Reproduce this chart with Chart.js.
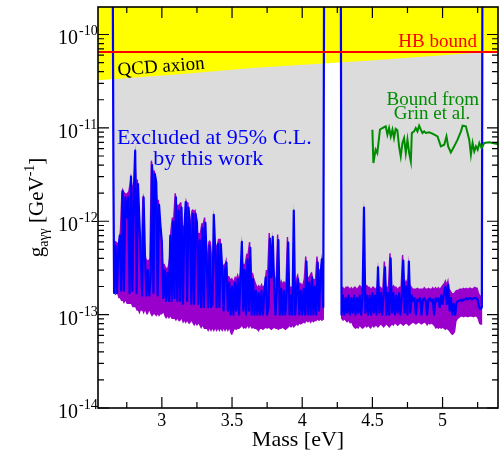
<!DOCTYPE html>
<html>
<head>
<meta charset="utf-8">
<script src="https://cdn.jsdelivr.net/npm/chart.js@4.4.1/dist/chart.umd.min.js"></script>
<style>
  html, body { margin: 0; padding: 0; background: #fff; }
</style>
</head>
<body>
<canvas id="limitChart" width="503" height="456"></canvas>
<script>
// all coupling values below are in units of 1e-13 GeV^-1
const G_UNIT = 1e-13;

// first mass window (blue limit, purple band top / bottom)
const seg1Mass = [2.650, 2.655,
  2.66, 2.67, 2.68, 2.69, 2.70, 2.71, 2.72, 2.73, 2.74, 2.75,
  2.76, 2.77, 2.78, 2.79, 2.80, 2.81, 2.82, 2.83, 2.84, 2.85,
  2.86, 2.87, 2.88, 2.89, 2.90, 2.91, 2.92, 2.93, 2.94, 2.95,
  2.96, 2.97, 2.98, 2.99, 3.00, 3.01, 3.02, 3.03, 3.04, 3.05,
  3.06, 3.07, 3.08, 3.09, 3.10, 3.11, 3.12, 3.13, 3.14, 3.15,
  3.16, 3.17, 3.18, 3.19, 3.20, 3.21, 3.22, 3.23, 3.24, 3.25,
  3.26, 3.27, 3.28, 3.29, 3.30, 3.31, 3.32, 3.33, 3.34, 3.35,
  3.36, 3.37, 3.38, 3.39, 3.40, 3.41, 3.42, 3.43, 3.44, 3.45,
  3.46, 3.47, 3.48, 3.49, 3.50, 3.51, 3.52, 3.53, 3.54, 3.55,
  3.56, 3.57, 3.58, 3.59, 3.60, 3.61, 3.62, 3.63, 3.64, 3.65,
  3.66, 3.67, 3.68, 3.69, 3.70, 3.71, 3.72, 3.73, 3.74, 3.75,
  3.76, 3.77, 3.78, 3.79, 3.80, 3.81, 3.82, 3.83, 3.84, 3.85,
  3.86, 3.87, 3.88, 3.89, 3.90, 3.91, 3.92, 3.93, 3.94, 3.95,
  3.96, 3.97, 3.98, 3.99, 4.00, 4.01, 4.02, 4.03, 4.04, 4.05,
  4.06, 4.07, 4.08, 4.09, 4.10, 4.11, 4.12, 4.13, 4.14, 4.15,
  4.156];
const seg1Limit = [5000, 30,
  1.7, 5.5, 1.7, 5.0, 7.0, 1.8, 21, 1.8, 18, 11,
  18, 1.7, 30, 1.8, 20, 57, 1.7, 25, 10, 4.0,
  1.6, 18, 4.0, 1.6, 3.0, 1.6, 2.5, 40, 1.7, 32,
  26, 1.6, 15, 9.0, 6.0, 1.5, 3.0, 1.4, 2.8, 1.4,
  7.0, 1.4, 10, 1.5, 18, 1.4, 13, 1.4, 14, 1.3,
  8.0, 16, 1.4, 14, 8.7, 1.3, 12, 1.3, 12, 9.6,
  1.3, 6.3, 1.2, 8.5, 1.2, 9.6, 3.6, 1.2, 5.5, 1.2,
  1.3, 11.7, 5.0, 1.2, 5.7, 1.2, 5.7, 3.0, 1.1, 3.0,
  3.6, 1.1, 2.2, 1.0, 2.0, 1.0, 2.2, 1.1, 2.4, 1.0,
  2.5, 6.0, 1.1, 3.0, 1.0, 3.9, 1.1, 5.2, 1.0, 2.4,
  1.0, 1.8, 1.0, 1.7, 1.0, 1.8, 1.0, 1.7, 2.5, 1.0,
  1.2, 6.5, 2.5, 6.8, 2.0, 1.0, 2.0, 6.3, 1.0, 1.9,
  1.0, 1.8, 1.0, 1.8, 5.9, 1.0, 1.6, 1.0, 13, 1.0,
  1.8, 2.4, 1.0, 1.8, 1.0, 1.9, 1.0, 3.7, 1.0, 2.2,
  1.0, 2.5, 1.0, 2.0, 1.0, 3.6, 1.1, 2.6, 3.9, 1.2,
  5000];
const seg1BandTop = [6.0, 34,
  6.0, 6.2, 6.0, 5.8, 8.0, 20, 23, 21, 20, 20,
  21, 26, 33, 25, 23, 66, 28, 28, 12, 5.0,
  18, 20, 5.0, 4.0, 3.8, 4.0, 44, 45, 35, 35,
  29, 17, 17, 10, 7.0, 3.5, 3.5, 3.2, 3.2, 4.0,
  8.0, 11, 11, 20, 20, 15, 15, 16, 16, 9.0,
  9.0, 18, 16, 16, 10, 13, 13.5, 13, 13.5, 11,
  7.5, 7.5, 9.5, 9.5, 11, 11, 4.2, 6.0, 6.3, 6.0,
  4.0, 13.5, 6.0, 5.5, 6.5, 6.5, 6.5, 3.6, 3.4, 3.6,
  4.2, 2.6, 2.6, 2.4, 2.5, 2.3, 2.6, 2.5, 2.8, 2.5,
  3.0, 7.0, 3.5, 3.5, 4.5, 4.5, 6.0, 6.0, 2.8, 2.8,
  2.4, 2.2, 2.0, 2.1, 2.0, 2.2, 2.0, 2.1, 3.0, 3.0,
  7.5, 7.5, 3.0, 7.8, 3.0, 2.4, 7.2, 7.2, 2.2, 2.4,
  2.2, 2.3, 2.2, 6.8, 6.8, 2.0, 2.0, 2.0, 15.5, 2.2,
  2.6, 2.8, 2.2, 2.2, 2.1, 2.4, 4.2, 4.2, 2.5, 2.6,
  2.8, 2.9, 2.4, 2.4, 4.2, 4.2, 3.0, 3.2, 4.5, 3.5,
  3.5];
const seg1BandLow = [1.7, 1.7,
  1.7, 1.6, 1.7, 1.5, 1.5, 1.4, 1.4, 1.3, 1.4, 1.3,
  1.3, 1.3, 1.3, 1.2, 1.2, 1.2, 1.1, 1.1, 1.0, 1.1,
  1.1, 1.0, 1.1, 1.0, 1.0, 1.1, 1.0, 0.95, 1.0, 1.0,
  0.95, 1.0, 0.95, 1.0, 1.0, 1.05, 0.95, 0.9, 0.95, 0.9,
  0.95, 0.9, 0.9, 0.9, 0.85, 0.9, 0.85, 0.85, 0.9, 0.8,
  0.85, 0.8, 0.85, 0.8, 0.8, 0.85, 0.8, 0.75, 0.8, 0.75,
  0.8, 0.75, 0.7, 0.75, 0.7, 0.7, 0.7, 0.65, 0.7, 0.65,
  0.7, 0.65, 0.7, 0.65, 0.7, 0.65, 0.7, 0.65, 0.7, 0.65,
  0.7, 0.65, 0.7, 0.62, 0.6, 0.65, 0.7, 0.68, 0.7, 0.7,
  0.72, 0.75, 0.7, 0.72, 0.7, 0.75, 0.7, 0.75, 0.7, 0.72,
  0.7, 0.7, 0.68, 0.65, 0.7, 0.7, 0.68, 0.7, 0.72, 0.7,
  0.72, 0.7, 0.68, 0.7, 0.72, 0.7, 0.7, 0.68, 0.7, 0.7,
  0.72, 0.7, 0.68, 0.7, 0.72, 0.75, 0.72, 0.75, 0.72, 0.75,
  0.78, 0.75, 0.8, 0.78, 0.8, 0.82, 0.8, 0.85, 0.82, 0.85,
  0.8, 0.85, 0.82, 0.85, 0.85, 0.88, 0.85, 0.88, 0.85, 0.88,
  0.88];

// second mass window
const seg2Mass = [4.275,
  4.28, 4.29, 4.30, 4.31, 4.32, 4.33, 4.34, 4.35, 4.36, 4.37,
  4.38, 4.39, 4.40, 4.41, 4.42, 4.43, 4.44, 4.45, 4.46, 4.47,
  4.48, 4.49, 4.50, 4.51, 4.52, 4.53, 4.54, 4.55, 4.56, 4.57,
  4.58, 4.59, 4.60, 4.61, 4.62, 4.63, 4.64, 4.65, 4.66, 4.67,
  4.68, 4.69, 4.70, 4.71, 4.72, 4.73, 4.74, 4.75, 4.76, 4.77,
  4.78, 4.79, 4.80, 4.81, 4.82, 4.83, 4.84, 4.85, 4.86, 4.87,
  4.88, 4.89, 4.90, 4.91, 4.92, 4.93, 4.94, 4.95, 4.96, 4.97,
  4.98, 4.99, 5.00, 5.01, 5.02, 5.03, 5.04, 5.05, 5.06, 5.07,
  5.08, 5.09, 5.10, 5.11, 5.12, 5.13, 5.14, 5.15, 5.16, 5.17,
  5.18, 5.19, 5.20, 5.21, 5.22, 5.23, 5.24, 5.25, 5.26, 5.27,
  5.28, 5.284];
const seg2Limit = [5000,
  1.0, 1.6, 1.0, 1.5, 1.05, 1.6, 1.0, 1.5, 1.05, 1.6,
  1.0, 1.5, 1.05, 1.6, 1.0, 1.5, 14, 1.05, 1.6, 1.0,
  1.6, 1.0, 1.7, 1.05, 1.6, 1.0, 3.2, 1.05, 1.7, 1.0,
  1.7, 3.2, 1.0, 1.7, 1.0, 4.0, 1.05, 1.7, 1.0, 1.6,
  1.05, 1.7, 1.0, 1.6, 3.8, 1.05, 2.0, 1.0, 3.7, 1.05,
  1.6, 1.4, 1.5, 1.0, 1.45, 1.4, 1.5, 1.0, 1.45, 1.5,
  1.4, 1.0, 1.45, 1.5, 1.4, 1.45, 1.0, 1.5, 1.4, 1.5,
  1.2, 1.6, 1.3, 1.7, 2.0, 1.3, 2.1, 1.1, 1.5, 1.0,
  1.3, 1.0, 1.35, 1.4, 1.4, 1.45, 1.4, 1.45, 1.45, 1.5,
  1.45, 1.5, 1.5, 1.45, 1.5, 1.5, 1.5, 1.45, 1.2, 1.15,
  1.2, 5000];
const seg2BandTop = [2.0,
  2.0, 2.0, 1.9, 2.0, 2.0, 2.0, 1.9, 2.0, 1.9, 2.0,
  2.0, 1.9, 2.0, 2.1, 2.0, 2.0, 17, 2.0, 2.1, 2.0,
  2.0, 1.9, 2.0, 2.0, 1.9, 2.0, 3.7, 2.0, 2.0, 1.9,
  3.7, 3.7, 2.0, 2.0, 4.5, 4.6, 2.0, 2.1, 2.0, 2.0,
  1.9, 2.0, 2.0, 4.3, 4.4, 2.2, 2.4, 2.2, 4.3, 2.1,
  2.0, 1.9, 1.9, 1.9, 1.95, 1.9, 1.9, 1.9, 1.9, 2.0,
  1.9, 1.9, 1.95, 1.9, 1.9, 2.0, 1.9, 2.0, 1.9, 2.0,
  1.9, 2.0, 2.1, 2.2, 2.4, 2.2, 2.5, 1.9, 1.8, 1.7,
  1.7, 1.8, 1.85, 1.85, 1.9, 1.9, 1.9, 1.95, 1.9, 1.95,
  1.9, 1.95, 1.95, 1.9, 1.95, 2.0, 1.95, 1.95, 1.7, 1.6,
  1.6, 1.6];
const seg2BandLow = [0.9,
  0.9, 0.85, 0.88, 0.85, 0.82, 0.85, 0.8, 0.82, 0.75, 0.72,
  0.7, 0.72, 0.7, 0.75, 0.72, 0.7, 0.72, 0.75, 0.72, 0.75,
  0.72, 0.7, 0.75, 0.72, 0.75, 0.75, 0.72, 0.75, 0.78, 0.75,
  0.72, 0.75, 0.78, 0.75, 0.72, 0.75, 0.78, 0.75, 0.8, 0.78,
  0.75, 0.78, 0.8, 0.78, 0.75, 0.78, 0.8, 0.78, 0.75, 0.78,
  0.8, 0.82, 0.8, 0.78, 0.8, 0.82, 0.8, 0.78, 0.8, 0.82,
  0.8, 0.75, 0.8, 0.78, 0.8, 0.78, 0.75, 0.7, 0.72, 0.7,
  0.72, 0.7, 0.72, 0.7, 0.68, 0.7, 0.68, 0.65, 0.62, 0.6,
  0.62, 0.65, 0.85, 0.9, 0.92, 0.95, 0.95, 0.93, 0.95, 0.95,
  0.93, 0.95, 0.95, 0.95, 0.93, 0.95, 0.95, 0.9, 0.8, 0.78,
  0.78, 0.78];

// Grin et al. bound
const grinMass = [4.500, 4.507, 4.523, 4.535, 4.554, 4.571, 4.595, 4.607, 4.619, 4.631,
  4.643, 4.654, 4.666, 4.678, 4.690, 4.702, 4.714, 4.726, 4.738, 4.750,
  4.762, 4.774, 4.781, 4.797, 4.809, 4.821, 4.833, 4.845, 4.857, 4.869,
  4.881, 4.905, 4.928, 4.964, 4.988, 5.012, 5.028, 5.040, 5.059, 5.083,
  5.107, 5.131, 5.143, 5.166, 5.190, 5.202, 5.214, 5.226, 5.238, 5.250,
  5.262, 5.278, 5.297, 5.333, 5.381, 5.395];
const grinLimit = [95.7, 42, 58.4, 53.8, 95.7, 99.7, 104, 84.5, 99.7, 81.1,
  95.7, 77.8, 97.3, 94, 63.4, 49.5, 68.9, 77.8, 53.8, 74.7,
  53.8, 43.7, 88.1, 91.8, 99.7, 91.8, 105.6, 95.7, 88.1, 91.8,
  88.1, 89.5, 86.7, 81.1, 63.4, 66, 81.1, 63.4, 54.6, 63.4,
  74.7, 91.8, 105.6, 104, 74.7, 51.6, 68.9, 56, 63.4, 58.4,
  68.9, 60.8, 68.9, 70, 67.7, 67.2];

// QCD axion band edge and HB bound
const qcdMass = [2.545, 3.102, 3.666, 4.488, 5.295, 5.395];
const qcdLimit = [323, 373, 440, 527, 646, 660];
const hbMass = [2.545, 5.395];
const hbLimit = [650, 650];

// axis ticks
const xMajorTicks = [3, 3.5, 4, 4.5, 5];
const xMinorTicks = [2.75, 3.25, 3.75, 4.25, 4.75, 5.25];
const yDecades = [-14, -13, -12, -11, -10];

const SERIF = '"Liberation Serif", "Times New Roman", serif';
const BLUE = '#0000ff';
const PURPLE = '#9900cc';
const GREY = '#dcdcdc';
const YELLOW = '#ffff00';
const RED = '#ff0000';
const GREEN = '#008c00';

const notes = [
  { text: 'HB bound', m: 5.245, g: 740, color: RED, size: 19, align: 'right' },
  { text: 'QCD axion', m: 2.688, g: 363, color: '#000', size: 19, align: 'left', angle: -4.5 },
  { text: 'Excluded at 95% C.L.', m: 3.374, g: 67.7, color: BLUE, size: 22, align: 'center' },
  { text: 'by this work', m: 3.331, g: 40.3, color: BLUE, size: 22, align: 'center' },
  { text: 'Bound from', m: 4.93, g: 177, color: GREEN, size: 19, align: 'center' },
  { text: 'Grin et al.', m: 4.925, g: 124, color: GREEN, size: 19, align: 'center' }
];

function toPoints(mass, vals) {
  return mass.map((m, i) => ({ x: m, y: vals[i] * G_UNIT }));
}

const decorations = {
  id: 'decorations',
  afterDatasetsDraw(chart) {
    const ctx = chart.ctx;
    const area = chart.chartArea;
    const xs = chart.scales.x;
    const ys = chart.scales.y;
    ctx.save();

    // text notes
    notes.forEach(n => {
      ctx.save();
      ctx.translate(xs.getPixelForValue(n.m), ys.getPixelForValue(n.g * G_UNIT));
      if (n.angle) ctx.rotate(n.angle * Math.PI / 180);
      ctx.font = n.size + 'px ' + SERIF;
      ctx.fillStyle = n.color;
      ctx.textAlign = n.align;
      ctx.textBaseline = 'alphabetic';
      ctx.fillText(n.text, 0, 0);
      ctx.restore();
    });

    // frame and inward ticks
    ctx.strokeStyle = '#000';
    ctx.lineWidth = 1.6;
    ctx.strokeRect(area.left, area.top, area.right - area.left, area.bottom - area.top);
    ctx.lineWidth = 1.2;
    ctx.beginPath();
    const xTick = (v, len) => {
      const px = xs.getPixelForValue(v);
      ctx.moveTo(px, area.bottom); ctx.lineTo(px, area.bottom - len);
      ctx.moveTo(px, area.top); ctx.lineTo(px, area.top + len);
    };
    xMajorTicks.forEach(v => xTick(v, 11));
    xMinorTicks.forEach(v => xTick(v, 6));
    yDecades.forEach(e => {
      for (let k = 1; k <= 9; k++) {
        const v = k * Math.pow(10, e);
        if (v > ys.max) break;
        const py = ys.getPixelForValue(v);
        const len = k === 1 ? 11 : 6;
        ctx.moveTo(area.left, py); ctx.lineTo(area.left + len, py);
        ctx.moveTo(area.right, py); ctx.lineTo(area.right - len, py);
      }
    });
    ctx.stroke();

    // y tick labels: 10 with exponent
    ctx.fillStyle = '#000';
    ctx.textBaseline = 'alphabetic';
    yDecades.forEach(e => {
      const py = ys.getPixelForValue(Math.pow(10, e));
      ctx.font = '20px ' + SERIF;
      ctx.textAlign = 'right';
      ctx.fillText('10', area.left - 20, py + 10);
      ctx.font = '14px ' + SERIF;
      ctx.textAlign = 'left';
      ctx.fillText(String(e), area.left - 19, py + 1);
    });

    // y axis title with sub/superscript
    const parts = [
      { t: 'g', size: 21, dy: 0 },
      { t: 'a\u03b3\u03b3', size: 14, dy: 5 },
      { t: ' [GeV', size: 21, dy: 0 },
      { t: '-1', size: 14, dy: -9 },
      { t: ']', size: 21, dy: 0 }
    ];
    let total = 0;
    parts.forEach(p => { ctx.font = p.size + 'px ' + SERIF; p.w = ctx.measureText(p.t).width; total += p.w; });
    ctx.translate(43, (area.top + area.bottom) / 2);
    ctx.rotate(-Math.PI / 2);
    ctx.textAlign = 'left';
    let cx = -total / 2;
    parts.forEach(p => {
      ctx.font = p.size + 'px ' + SERIF;
      ctx.fillText(p.t, cx, p.dy);
      cx += p.w;
    });
    ctx.restore();
  }
};

new Chart(document.getElementById('limitChart'), {
  type: 'line',
  data: {
    datasets: [
      { label: 'band low 1', data: toPoints(seg1Mass, seg1BandLow), fill: 'end', backgroundColor: PURPLE, borderColor: 'transparent', borderWidth: 0, order: 10 },
      { label: 'band low 2', data: toPoints(seg2Mass, seg2BandLow), fill: 'end', backgroundColor: PURPLE, borderColor: 'transparent', borderWidth: 0, order: 10 },
      { label: 'excluded 1', data: toPoints(seg1Mass, seg1BandTop), fill: 'end', backgroundColor: GREY, borderColor: 'transparent', borderWidth: 0, order: 9 },
      { label: 'excluded 2', data: toPoints(seg2Mass, seg2BandTop), fill: 'end', backgroundColor: GREY, borderColor: 'transparent', borderWidth: 0, order: 9 },
      { label: 'QCD axion', data: toPoints(qcdMass, qcdLimit), fill: 'end', backgroundColor: YELLOW, borderColor: 'transparent', borderWidth: 0, order: 8 },
      { label: 'limit 1', data: toPoints(seg1Mass, seg1Limit), fill: false, borderColor: BLUE, borderWidth: 2.2, borderJoinStyle: 'round', order: 5 },
      { label: 'limit 2', data: toPoints(seg2Mass, seg2Limit), fill: false, borderColor: BLUE, borderWidth: 2.2, borderJoinStyle: 'round', order: 5 },
      { label: 'HB bound', data: toPoints(hbMass, hbLimit), fill: false, borderColor: RED, borderWidth: 2, order: 4 },
      { label: 'Grin et al.', data: toPoints(grinMass, grinLimit), fill: false, borderColor: GREEN, borderWidth: 2, order: 3 }
    ]
  },
  options: {
    responsive: false,
    animation: false,
    layout: { padding: { top: 7, right: 5, left: 0, bottom: 0 } },
    elements: { point: { radius: 0, hoverRadius: 0 }, line: { tension: 0 } },
    plugins: { legend: { display: false }, tooltip: { enabled: false } },
    scales: {
      x: {
        type: 'linear',
        min: 2.545,
        max: 5.395,
        grid: { display: false, drawTicks: false },
        border: { display: false },
        afterBuildTicks: s => { s.ticks = xMajorTicks.map(v => ({ value: v })); },
        afterFit: s => { s.height = 48; },
        ticks: {
          color: '#000',
          padding: 2,
          maxRotation: 0,
          autoSkip: false,
          font: { family: SERIF, size: 18 },
          callback: v => String(v)
        },
        title: {
          display: true,
          text: 'Mass [eV]',
          color: '#000',
          font: { family: SERIF, size: 22 },
          padding: { top: 0, bottom: 3 }
        }
      },
      y: {
        type: 'logarithmic',
        min: 1e-14,
        max: 1.97e-10,
        grid: { display: false, drawTicks: false },
        border: { display: false },
        ticks: { display: false },
        afterFit: s => { s.width = 98; }
      }
    }
  },
  plugins: [decorations]
});
</script>
</body>
</html>
